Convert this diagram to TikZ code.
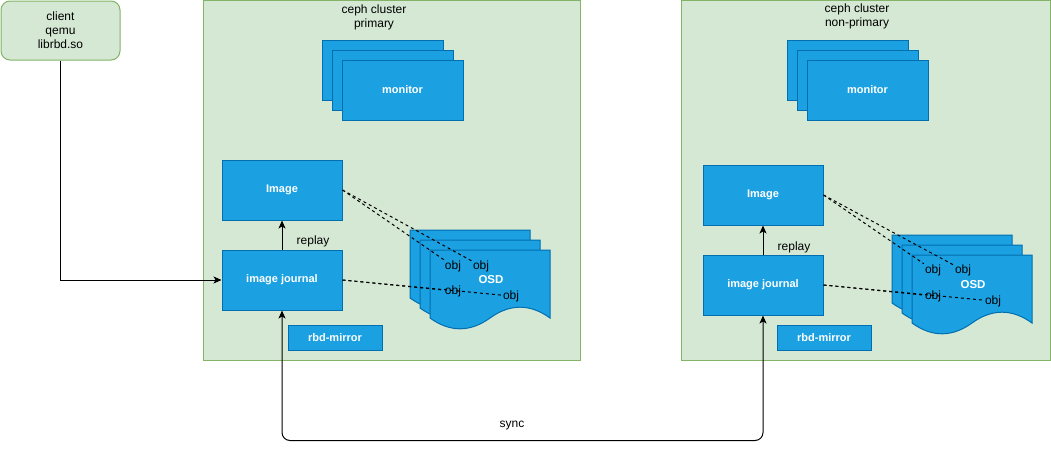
\documentclass[tikz,border=0pt]{standalone}
\usepackage{fontspec}
\setmainfont{Liberation Sans}
\usetikzlibrary{arrows.meta}

\definecolor{boxblue}{HTML}{1BA1E2}
\definecolor{boxline}{HTML}{006EAF}
\definecolor{grfill}{HTML}{D5E8D4}
\definecolor{grline}{HTML}{82B366}

\tikzset{
	cluster/.style={draw=grline,fill=grfill,line width=1pt},
	blk/.style={draw=boxline,fill=boxblue,line width=1pt,text=white,inner sep=0pt,
		font=\fontsize{11}{13}\selectfont\bfseries,minimum width=120pt,minimum height=60pt},
	small/.style={blk,minimum width=94pt,minimum height=25pt},
	page/.style={draw=boxline,fill=boxblue,line width=1pt},
	lbl/.style={font=\fontsize{12}{14}\selectfont,align=center,inner sep=1pt},
	wlbl/.style={lbl,text=white,font=\fontsize{11.5}{13}\selectfont\bfseries},
	arr/.style={-{Stealth[length=8pt,width=7pt,inset=2pt]},line width=1pt},
	link/.style={dash pattern=on 3pt off 3pt,line width=1pt}
}

\def\osdpage#1#2{\draw[page,shift={(#1,#2)}] (0,0) -- (120,0) -- (120,68)
	.. controls (100,53.6) and (80,53.6) .. (60,68)
	.. controls (40,82.4) and (20,82.4) .. (0,68) -- cycle;}

\begin{document}
\begin{tikzpicture}[x=1pt,y=-1pt]
	\useasboundingbox (0,0) rectangle (1051,450);

	% client
	\node[cluster,rounded corners=9pt,minimum width=119pt,minimum height=59pt,
		lbl,align=center] (client) at (60.5,30.5) {client\\qemu\\librbd.so};

	% clusters
	\draw[cluster] (203.5,0.5) rectangle (580.5,360.5);
	\draw[cluster] (681.5,0.5) rectangle (1050.5,360.5);
	\node[lbl] (ptitle) at (374,17) {ceph cluster\\primary};
	\node[lbl] (ntitle) at (857,16) {ceph cluster\\non-primary};

	% monitors
	\node[blk,minimum width=121pt] (pmona) at (382.5,70) {};
	\node[blk,minimum width=121pt] (pmonb) at (392.5,80) {};
	\node[blk,minimum width=121pt] (pmon) at (402.5,90) {monitor};
	\node[blk,minimum width=121pt] (nmona) at (847.5,70) {};
	\node[blk,minimum width=121pt] (nmonb) at (857.5,80) {};
	\node[blk,minimum width=121pt] (nmon) at (867.5,90) {monitor};

	% primary side
	\node[blk] (pimg) at (282,190) {Image};
	\node[blk] (pjrn) at (282,280) {image journal};
	\node[small] (prbd) at (335,337.5) {rbd-mirror};
	\osdpage{410}{230}
	\osdpage{420}{240}
	\osdpage{430}{250}
	\node[wlbl] (posd) at (491,280) {OSD};
	\node[lbl] (pobja) at (453,266) {obj};
	\node[lbl] (pobjb) at (481,266) {obj};
	\node[lbl] (pobjc) at (453,291) {obj};
	\node[lbl] (pobjd) at (511,296) {obj};
	\node[lbl] (preplay) at (313,241) {replay};

	% non-primary side
	\node[blk] (nimg) at (763,195) {Image};
	\node[blk] (njrn) at (763,285) {image journal};
	\node[small] (nrbd) at (824,337.5) {rbd-mirror};
	\osdpage{892}{235}
	\osdpage{902}{245}
	\osdpage{912}{255}
	\node[wlbl] (nosd) at (973,285) {OSD};
	\node[lbl] (nobja) at (933,270) {obj};
	\node[lbl] (nobjb) at (963,270) {obj};
	\node[lbl] (nobjc) at (933,296) {obj};
	\node[lbl] (nobjd) at (993,301) {obj};
	\node[lbl] (nreplay) at (794,247) {replay};

	% object links
	\draw[link] (pimg.east) -- (pobja);
	\draw[link] (pimg.east) -- (pobjb);
	\draw[link] (pjrn.east) -- (pobjc);
	\draw[link] (pjrn.east) -- (pobjd);
	\draw[link] (nimg.east) -- (nobja);
	\draw[link] (nimg.east) -- (nobjb);
	\draw[link] (njrn.east) -- (nobjc);
	\draw[link] (njrn.east) -- (nobjd);

	% arrows
	\draw[arr] (pjrn) -- (pimg);
	\draw[arr] (njrn) -- (nimg);
	\draw[arr] (client.south) |- (pjrn.west);
	\draw[arr,{Stealth[length=8pt,width=7pt,inset=2pt]}-{Stealth[length=8pt,width=7pt,inset=2pt]},
		rounded corners=8pt] (pjrn.south) -- ++(0,130) -| (njrn.south);
	\node[lbl] (sync) at (512,426) {sync};
\end{tikzpicture}
\end{document}
